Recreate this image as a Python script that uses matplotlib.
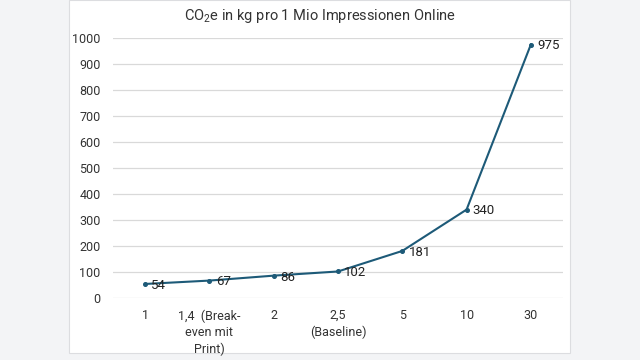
import matplotlib.pyplot as plt
from matplotlib.patches import Rectangle

plt.rcParams['font.family'] = ['Roboto', 'DejaVu Sans']
plt.rcParams['mathtext.fontset'] = 'custom'
plt.rcParams['mathtext.rm'] = 'Roboto'

categories = ['1', '1,4  (Break-\neven mit\nPrint)', '2', '2,5\n(Baseline)', '5', '10', '30']
values = [54, 67, 86, 102, 181, 340, 975]
yticks = list(range(0, 1001, 100))

line_color = '#1d5a78'

fig = plt.figure(figsize=(6.4, 3.6), dpi=100, facecolor='#f3f4f6')
# white chart panel, kept behind the axes
fig.patches.append(Rectangle((69 / 640, 1 - 353 / 360), 501 / 640, 353 / 360,
                             transform=fig.transFigure, facecolor='white',
                             edgecolor='#dcdde0', linewidth=0.8, zorder=-10))

ax = fig.add_axes([113 / 640, 1 - 298 / 360, 450 / 640, 260 / 360])
ax.set_facecolor('none')

x = list(range(len(values)))
ax.plot(x, values, color=line_color, linewidth=1.5, marker='o', markersize=2.6, zorder=3)
for xi, v in zip(x, values):
    ax.annotate(str(v), (xi, v), xytext=(4.5, -1), textcoords='offset points',
                ha='left', va='center', fontsize=9.5, color='#222222')

ax.set_xlim(-0.5, len(values) - 0.5)
ax.set_ylim(0, 1000)
ax.set_yticks(yticks)
ax.set_xticks(x)
ax.set_xticklabels(categories, fontsize=9, color='#333333', linespacing=1.35)
ax.tick_params(axis='y', labelsize=9, labelcolor='#333333', length=0, pad=9)
ax.tick_params(axis='x', length=0, pad=8)
ax.grid(axis='y', color='#d9d9d9', linewidth=0.9)
ax.set_axisbelow(True)
for s in ax.spines.values():
    s.set_visible(False)

fig.text(320 / 640, 1 - 16 / 360, r'CO$_\mathregular{2}$e in kg pro 1 Mio Impressionen Online',
         ha='center', va='center', fontsize=10.5, color='#333333')

fig.savefig('out.png', dpi=100, facecolor=fig.get_facecolor())
